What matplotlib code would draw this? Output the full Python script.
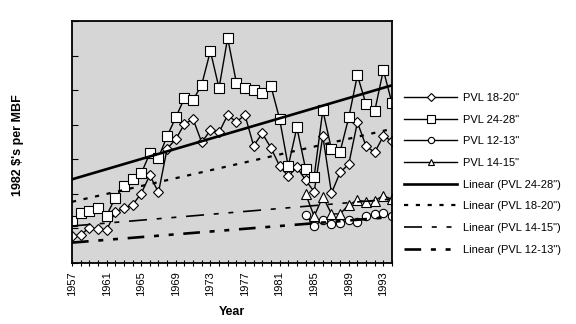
import matplotlib.pyplot as plt
import numpy as np

plt.rcParams['font.family'] = ['Liberation Sans', 'DejaVu Sans']
plt.rcParams['lines.scale_dashes'] = False

# data (1982 $ per MBF, axis unlabeled)
years = list(range(1957, 1995))
pvl_1820 = [0.78, 0.81, 1.02, 0.97, 0.95, 1.48, 1.58, 1.68, 2.01, 2.54,
            2.04, 3.31, 3.58, 4.02, 4.16, 3.49, 3.84, 3.78, 4.28, 4.08,
            4.28, 3.39, 3.75, 3.33, 2.81, 2.51, 2.77, 2.40, 2.06, 3.67,
            2.02, 2.62, 2.86, 4.07, 3.38, 3.20, 3.67, 3.53]
pvl_2428 = [1.22, 1.46, 1.51, 1.60, 1.37, 1.89, 2.23, 2.43, 2.59, 3.17,
            3.05, 3.67, 4.21, 4.77, 4.71, 5.16, 6.13, 5.06, 6.51, 5.22,
            5.06, 5.00, 4.92, 5.12, 4.17, 2.80, 3.92, 2.73, 2.50, 4.42,
            3.29, 3.22, 4.21, 5.43, 4.59, 4.39, 5.58, 4.62]
years_late = list(range(1984, 1995))
pvl_1213 = [1.40, 1.07, 1.25, 1.14, 1.17, 1.24, 1.19, 1.36, 1.41, 1.44, 1.37]
pvl_1415 = [2.01, 1.35, 1.92, 1.42, 1.42, 1.68, 1.82, 1.77, 1.80, 1.95, 1.84]

# trend lines, values at both ends
trend_years = [1957, 1994]
trend_2428 = [2.42, 5.14]
trend_1820 = [1.77, 3.88]
trend_1415 = [1.07, 1.85]
trend_1213 = [0.59, 1.33]

tick_years = list(range(1957, 1995, 4))

fig = plt.figure(figsize=(5.76, 3.24), dpi=100)
ax = fig.add_axes([72/576, 1 - 263/324, 320/576, 242/324])
ax.set_facecolor('#d6d6d6')

mk = dict(color='black', lw=1.0, markerfacecolor='white',
          markeredgecolor='black', markeredgewidth=0.8)
l1, = ax.plot(years, pvl_1820, marker='D', ms=5, **mk)
l2, = ax.plot(years, pvl_2428, marker='s', ms=7, **mk)
l3, = ax.plot(years_late, pvl_1213, marker='o', ms=6, **mk)
l4, = ax.plot(years_late, pvl_1415, marker='^', ms=6.5, **mk)

t1, = ax.plot(trend_years, trend_2428, color='black', lw=1.9)
t2, = ax.plot(trend_years, trend_1820, color='black', lw=1.6,
              linestyle=(0, (3, 5.5)))
t3, = ax.plot(trend_years, trend_1415, color='black', lw=1.2,
              linestyle=(0, (13, 7, 3.6, 7, 3.6, 7)))
t4, = ax.plot(trend_years, trend_1213, color='black', lw=1.9,
              linestyle=(0, (12, 7, 3.6, 7, 3.6, 7)))

ax.set_xlim(1957, 1994)
ax.set_ylim(0, 7)
ax.set_xticks(tick_years)
ax.set_xticks(years, minor=True)
ax.set_xticklabels([str(y) for y in tick_years], rotation=90, fontsize=8)
ax.set_yticks(range(0, 8))
ax.set_yticklabels([])
ax.tick_params(axis='x', which='both', direction='inout', length=5, width=0.8)
ax.tick_params(axis='y', direction='in', length=4, width=0.8)
for s in ax.spines.values():
    s.set_linewidth(1.3)

ax.set_xlabel('Year', fontsize=9, fontweight='bold', labelpad=7)
fig.text(18/576, 1 - 145/324, "1982 $'s per MBF", rotation=90, fontsize=9,
         fontweight='bold', ha='center', va='center')

fig.legend([l1, l2, l3, l4, t1, t2, t3, t4],
           ['PVL 18-20"', 'PVL 24-28"', 'PVL 12-13"', 'PVL 14-15"',
            'Linear (PVL 24-28")', 'Linear (PVL 18-20")',
            'Linear (PVL 14-15")', 'Linear (PVL 12-13")'],
           loc='upper left', bbox_to_anchor=(404/576, 1 - 93/324),
           frameon=False, fontsize=8, handlelength=4.8, handletextpad=0.55,
           labelspacing=1.05, borderaxespad=0, borderpad=0, markerscale=0.75)

fig.savefig('out.png', dpi=100)
